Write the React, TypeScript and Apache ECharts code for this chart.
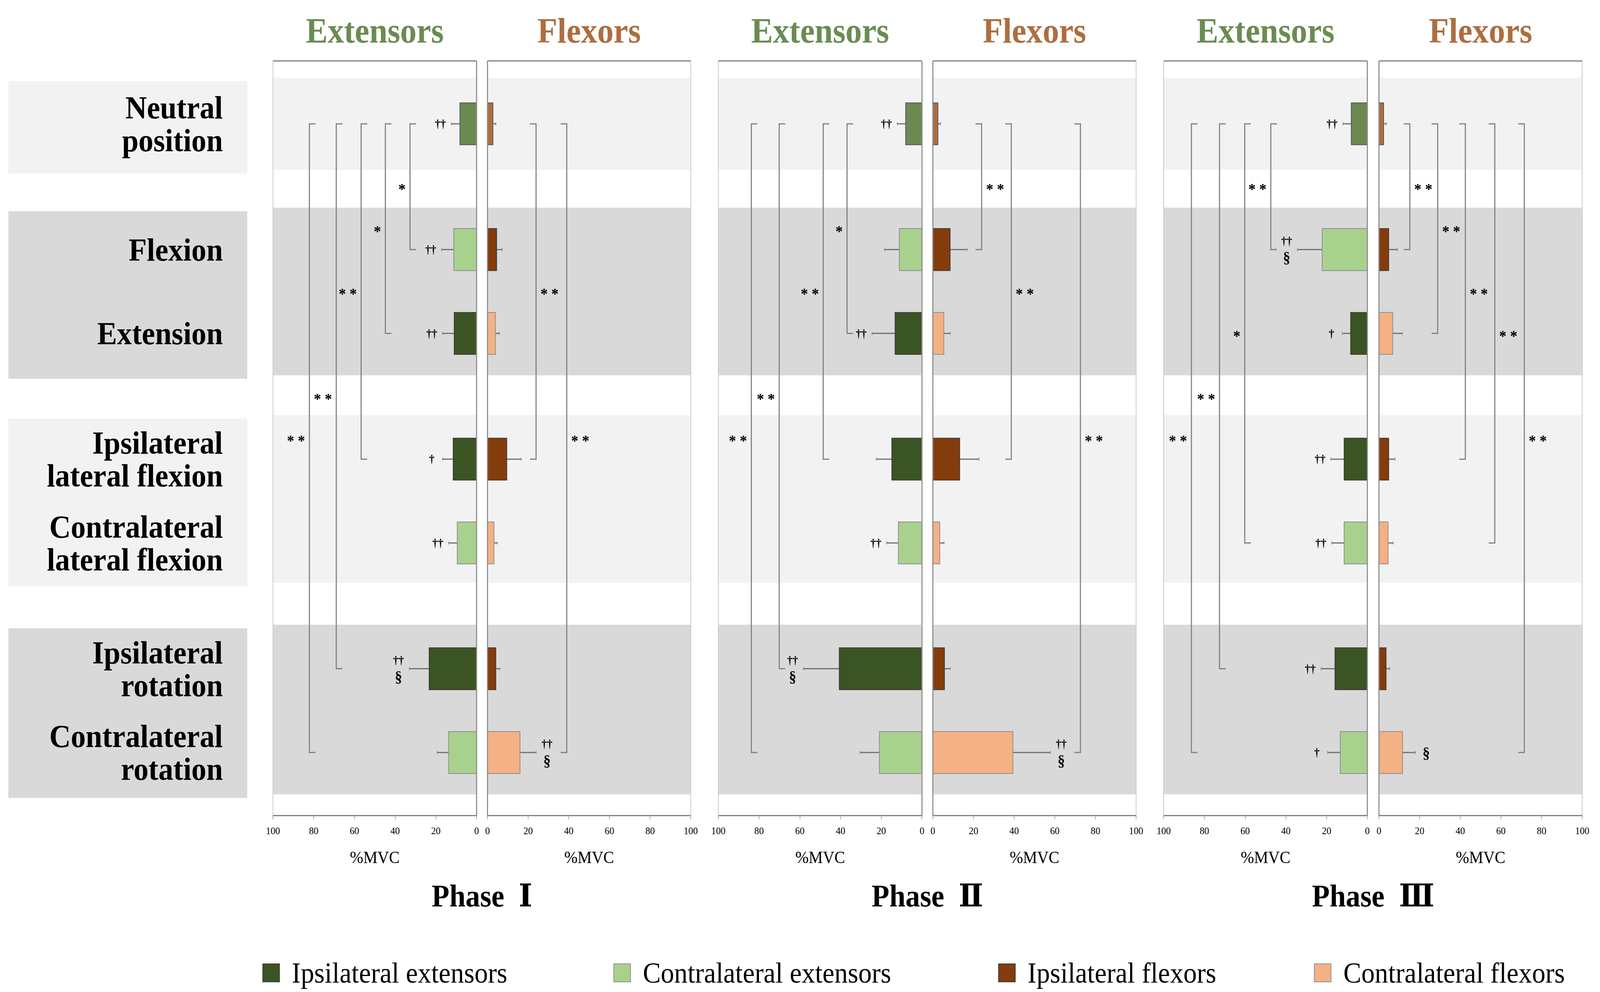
import React, { useEffect, useRef, useState } from "react";
import * as echarts from "echarts";

// ---------- data ----------
const rowLabels = [
  "Neutral\nposition",
  "Flexion",
  "Extension",
  "Ipsilateral\nlateral flexion",
  "Contralateral\nlateral flexion",
  "Ipsilateral\nrotation",
  "Contralateral\nrotation",
];
const rowSlots = [0, 3, 5, 8, 10, 13, 15];
const phaseNames = ["Phase  Ⅰ", "Phase  Ⅱ", "Phase  Ⅲ"];
const legendNames = ["Ipsilateral extensors", "Contralateral extensors", "Ipsilateral flexors", "Contralateral flexors"];

// colour group of each row: 0 neutral, 1 ipsilateral, 2 contralateral
const extGroup = [0, 2, 1, 1, 2, 1, 2];
const flexGroup = [0, 1, 2, 1, 2, 1, 2];

// mean %MVC and SD
const p1ExtMean = [8.2, 11.2, 11.0, 11.5, 9.5, 23.3, 13.7];
const p1ExtSd = [4.2, 6.0, 5.7, 5.2, 4.2, 9.7, 5.7];
const p1FlexMean = [2.7, 4.5, 3.9, 9.5, 3.2, 4.1, 16.0];
const p1FlexSd = [1.4, 2.8, 2.0, 7.1, 1.6, 2.0, 7.9];
const p2ExtMean = [8.0, 11.1, 13.2, 14.8, 11.6, 40.6, 20.9];
const p2ExtSd = [4.1, 7.3, 11.3, 7.6, 5.7, 17.6, 9.4];
const p2FlexMean = [2.5, 8.5, 5.4, 13.2, 3.4, 5.7, 39.4];
const p2FlexSd = [1.3, 8.3, 3.2, 9.5, 2.1, 2.9, 18.4];
const p3ExtMean = [7.9, 22.2, 8.2, 11.4, 11.4, 15.9, 13.3];
const p3ExtSd = [4.1, 12.1, 4.1, 6.5, 6.1, 6.8, 6.2];
const p3FlexMean = [2.3, 4.8, 6.8, 4.8, 4.5, 3.5, 11.6];
const p3FlexSd = [1.3, 4.3, 4.7, 3.1, 2.5, 1.8, 6.3];

// marks next to the SD whiskers
const p1ExtMarks = ["††", "††", "††", "†", "††", "††\n§", ""];
const p1FlexMarks = ["", "", "", "", "", "", "††\n§"];
const p2ExtMarks = ["††", "", "††", "", "††", "††\n§", ""];
const p2FlexMarks = ["", "", "", "", "", "", "††\n§"];
const p3ExtMarks = ["††", "††\n§", "†", "††", "††", "††", "†"];
const p3FlexMarks = ["", "", "", "", "", "", "§"];

// significance brackets: [%MVC position, from row, to row, label]
const p1ExtBrackets: [number, number, number, string][] = [
  [32.7, 0, 1, "*"], [44.8, 0, 2, "*"], [56.7, 0, 3, "* *"], [68.9, 0, 5, "* *"], [82.1, 0, 6, "* *"],
];
const p1FlexBrackets: [number, number, number, string][] = [[23.9, 0, 3, "* *"], [39.0, 0, 6, "* *"]];
const p2ExtBrackets: [number, number, number, string][] = [
  [36.8, 0, 2, "*"], [48.5, 0, 3, "* *"], [70.1, 0, 5, "* *"], [83.8, 0, 6, "* *"],
];
const p2FlexBrackets: [number, number, number, string][] = [[24.0, 0, 1, "* *"], [38.6, 0, 3, "* *"], [72.6, 0, 6, "* *"]];
const p3ExtBrackets: [number, number, number, string][] = [
  [47.4, 0, 1, "* *"], [60.2, 0, 4, "*"], [72.6, 0, 5, "* *"], [86.4, 0, 6, "* *"],
];
const p3FlexBrackets: [number, number, number, string][] = [
  [15.2, 0, 1, "* *"], [28.9, 0, 2, "* *"], [42.5, 0, 3, "* *"], [57.0, 0, 4, "* *"], [71.5, 0, 6, "* *"],
];

// background bands (row units)
const bandStart = [-1.1, 2, 6.95, 11.95];
const bandEnd = [1.1, 6, 10.95, 16];

// ---------- layout / style ----------
const W = 4408;
const H = 2539;
const FONT = '"Liberation Serif", "DejaVu Serif", serif';
const GRID_TOP = 156;
const GRID_H = 1931;
const Y_MIN = -1.5;
const Y_MAX = 16.5;
const EXT_LEFT = [752, 1979, 3206];
const FLEX_LEFT = [1343, 2570, 3799];
const EXT_W = 561;
const FLEX_W = 560;
const LABEL_SHIFT = 9;
const BAND_COLORS = ["#f2f2f2", "#d9d9d9", "#f2f2f2", "#d9d9d9"];
const EXT_COLORS = ["#6a8a52", "#3b5423", "#a9d18e"];
const FLEX_COLORS = ["#ad6e40", "#843c0c", "#f4b183"];
const BORDERS = ["#555555", "#3a3a3a", "#8c8c8c"];
const LEGEND_LEFT = [723, 1690, 2750, 3620];

const MARK_RICH = {
  d: { fontSize: 30, fontWeight: "bold", fontFamily: FONT, lineHeight: 40, fill: "#000", align: "center" },
  s: { fontSize: 40, fontWeight: "bold", fontFamily: FONT, lineHeight: 44, fill: "#000", align: "center" },
};

const phases = [
  { extMean: p1ExtMean, extSd: p1ExtSd, flexMean: p1FlexMean, flexSd: p1FlexSd, extMarks: p1ExtMarks, flexMarks: p1FlexMarks, extBr: p1ExtBrackets, flexBr: p1FlexBrackets },
  { extMean: p2ExtMean, extSd: p2ExtSd, flexMean: p2FlexMean, flexSd: p2FlexSd, extMarks: p2ExtMarks, flexMarks: p2FlexMarks, extBr: p2ExtBrackets, flexBr: p2FlexBrackets },
  { extMean: p3ExtMean, extSd: p3ExtSd, flexMean: p3FlexMean, flexSd: p3FlexSd, extMarks: p3ExtMarks, flexMarks: p3FlexMarks, extBr: p3ExtBrackets, flexBr: p3FlexBrackets },
];

function yAxisFor(i: number) {
  return { type: "value", gridIndex: i, min: Y_MIN, max: Y_MAX, inverse: true, show: false };
}

function panelXAxis(gi: number, ext: boolean) {
  return {
    type: "value",
    gridIndex: gi,
    position: "bottom",
    min: 0,
    max: 100,
    interval: 20,
    inverse: ext,
    axisLine: { show: true, onZero: false, lineStyle: { color: "#7f7f7f", width: 3 } },
    axisTick: { show: true, length: 10, lineStyle: { color: "#a6a6a6", width: 2 } },
    axisLabel: { fontSize: 26, fontFamily: FONT, color: "#000", margin: 26 },
    splitLine: { show: false },
    name: "%MVC",
    nameLocation: "middle",
    nameGap: 85,
    nameTextStyle: { fontSize: 44, fontFamily: FONT, color: "#000" },
  };
}

function bandSeries(gi: number, shift: number) {
  return {
    type: "custom",
    xAxisIndex: gi,
    yAxisIndex: gi,
    z: 1,
    silent: true,
    data: bandStart.map((s, i) => [s, bandEnd[i]]),
    renderItem: (params: any, api: any) => {
      const cs = params.coordSys;
      const y0 = api.coord([0, api.value(0)])[1] + shift;
      const y1 = api.coord([0, api.value(1)])[1] + shift;
      return {
        type: "rect",
        shape: { x: cs.x, y: y0, width: cs.width, height: y1 - y0 },
        style: { fill: BAND_COLORS[params.dataIndex] },
      };
    },
  };
}

function frameSeries(gi: number) {
  return {
    type: "custom",
    xAxisIndex: gi,
    yAxisIndex: gi,
    z: 6,
    silent: true,
    data: [[0]],
    renderItem: (params: any, api: any) => {
      const cs = params.coordSys;
      const zeroX = api.coord([0, Y_MIN])[0];
      const outerX = api.coord([100, Y_MIN])[0];
      const top = cs.y;
      const bottom = cs.y + cs.height;
      return {
        type: "group",
        children: [
          { type: "line", shape: { x1: outerX, y1: top, x2: outerX, y2: bottom }, style: { stroke: "#c8c8c8", lineWidth: 2 } },
          { type: "line", shape: { x1: zeroX, y1: top, x2: zeroX, y2: bottom }, style: { stroke: "#8c8c8c", lineWidth: 3 } },
          { type: "line", shape: { x1: cs.x, y1: top, x2: cs.x + cs.width, y2: top }, style: { stroke: "#7f7f7f", lineWidth: 3 } },
        ],
      };
    },
  };
}

function richMark(mark: string) {
  return mark
    .split("\n")
    .map((line) => (line.indexOf("§") >= 0 ? "{s|" + line + "}" : "{d|" + line + "}"))
    .join("\n");
}

function barSeries(gi: number, ext: boolean, group: number, means: number[], sds: number[], marks: string[]) {
  const groups = ext ? extGroup : flexGroup;
  const idx = means.map((_, i) => i).filter((i) => groups[i] === group);
  const color = (ext ? EXT_COLORS : FLEX_COLORS)[group];
  const border = BORDERS[group];
  const side = ext ? "extensors" : "flexors";
  const name = group === 0 ? "Neutral " + side : (group === 1 ? "Ipsilateral " : "Contralateral ") + side;
  const sign = ext ? -1 : 1;
  return {
    type: "custom",
    name,
    xAxisIndex: gi,
    yAxisIndex: gi,
    z: 5,
    silent: true,
    itemStyle: { color, borderColor: border, borderWidth: 1 },
    data: idx.map((i) => [means[i], sds[i], rowSlots[i]]),
    renderItem: (params: any, api: any) => {
      const mean = api.value(0);
      const sd = api.value(1);
      const slot = api.value(2);
      const mark = marks[idx[params.dataIndex]];
      const base = api.coord([0, slot]);
      const end = api.coord([mean, slot]);
      const tip = api.coord([mean + sd, slot]);
      const h = api.size([0, 1])[1];
      const children: any[] = [
        { type: "line", shape: { x1: end[0], y1: end[1], x2: tip[0], y2: tip[1] }, style: { stroke: "#6f6f6f", lineWidth: 3 } },
        { type: "line", shape: { x1: tip[0], y1: tip[1] - 4, x2: tip[0], y2: tip[1] + 4 }, style: { stroke: "#8a8a8a", lineWidth: 2 } },
        {
          type: "rect",
          shape: { x: Math.min(base[0], end[0]), y: base[1] - h / 2, width: Math.abs(end[0] - base[0]), height: h },
          style: { fill: color, stroke: border, lineWidth: 2 },
        },
      ];
      if (mark) {
        children.push({
          type: "text",
          x: tip[0] + sign * 30,
          y: tip[1],
          style: { text: richMark(mark), rich: MARK_RICH, align: "center", verticalAlign: "middle", fill: "#000" },
        });
      }
      return { type: "group", children };
    },
  };
}

function bracketSeries(gi: number, ext: boolean, brackets: [number, number, number, string][]) {
  const sign = ext ? -1 : 1;
  return {
    type: "custom",
    xAxisIndex: gi,
    yAxisIndex: gi,
    z: 3,
    silent: true,
    data: brackets.map((b) => [b[0], rowSlots[b[1]], rowSlots[b[2]]]),
    renderItem: (params: any, api: any) => {
      const x = api.value(0);
      const y0 = api.value(1);
      const y1 = api.value(2);
      const a = api.coord([x, y0]);
      const b = api.coord([x, y1]);
      const ca = api.coord([x - 3, y0]);
      const cb = api.coord([x - 3, y1]);
      return {
        type: "group",
        children: [
          { type: "polyline", shape: { points: [ca, a, b, cb] }, style: { stroke: "#808080", lineWidth: 3, fill: "none" } },
          {
            type: "text",
            x: a[0] + sign * 12,
            y: (a[1] + b[1]) / 2 + 6,
            style: {
              text: brackets[params.dataIndex][3],
              align: ext ? "right" : "left",
              verticalAlign: "middle",
              fontSize: 40,
              fontWeight: "bold",
              fontFamily: FONT,
              fill: "#000",
            },
          },
        ],
      };
    },
  };
}

function buildOption() {
  const grids: any[] = [{ left: 23, top: GRID_TOP, width: 658, height: GRID_H }];
  const xAxes: any[] = [{ type: "value", gridIndex: 0, min: 0, max: 1, show: false }];
  const yAxes: any[] = [yAxisFor(0)];
  const series: any[] = [
    bandSeries(0, LABEL_SHIFT),
    {
      type: "custom",
      xAxisIndex: 0,
      yAxisIndex: 0,
      z: 2,
      silent: true,
      data: rowSlots.map((s) => [0, s]),
      renderItem: (params: any, api: any) => {
        const p = api.coord([1, api.value(1)]);
        return {
          type: "text",
          x: p[0] - 67,
          y: p[1],
          style: {
            text: rowLabels[params.dataIndex],
            align: "right",
            verticalAlign: "middle",
            fontSize: 82,
            fontWeight: "bold",
            fontFamily: FONT,
            lineHeight: 84,
            fill: "#000",
          },
        };
      },
    },
  ];
  const graphics: any[] = [];

  phases.forEach((ph, p) => {
    const ge = 1 + 2 * p;
    const gf = 2 + 2 * p;
    grids.push({ left: EXT_LEFT[p], top: GRID_TOP, width: EXT_W, height: GRID_H });
    grids.push({ left: FLEX_LEFT[p], top: GRID_TOP, width: FLEX_W, height: GRID_H });
    xAxes.push(panelXAxis(ge, true));
    xAxes.push(panelXAxis(gf, false));
    yAxes.push(yAxisFor(ge));
    yAxes.push(yAxisFor(gf));
    series.push(bandSeries(ge, 0), bandSeries(gf, 0));
    series.push(frameSeries(ge), frameSeries(gf));
    series.push(bracketSeries(ge, true, ph.extBr), bracketSeries(gf, false, ph.flexBr));
    [0, 1, 2].forEach((g) => {
      series.push(barSeries(ge, true, g, ph.extMean, ph.extSd, ph.extMarks));
      series.push(barSeries(gf, false, g, ph.flexMean, ph.flexSd, ph.flexMarks));
    });
    graphics.push({
      type: "text",
      x: EXT_LEFT[p] + EXT_W / 2,
      y: 79,
      style: { text: "Extensors", fill: "#6a8c52", fontSize: 90, fontWeight: "bold", fontFamily: FONT, align: "center", verticalAlign: "middle" },
    });
    graphics.push({
      type: "text",
      x: FLEX_LEFT[p] + FLEX_W / 2,
      y: 79,
      style: { text: "Flexors", fill: "#ad6e40", fontSize: 90, fontWeight: "bold", fontFamily: FONT, align: "center", verticalAlign: "middle" },
    });
    graphics.push({
      type: "text",
      x: (EXT_LEFT[p] + EXT_W + FLEX_LEFT[p]) / 2,
      y: 2293,
      style: { text: phaseNames[p], fill: "#000", fontSize: 80, fontWeight: "bold", fontFamily: FONT, align: "center", verticalAlign: "middle" },
    });
  });

  const legends = legendNames.map((n, i) => ({
    data: [n],
    left: LEGEND_LEFT[i],
    top: 2453,
    padding: 0,
    icon: "rect",
    itemWidth: 46,
    itemHeight: 46,
    selectedMode: false,
    textStyle: { fontSize: 74, fontFamily: FONT, color: "#000", padding: [0, 0, 0, 29] },
  }));

  return {
    animation: false,
    backgroundColor: "#ffffff",
    grid: grids,
    xAxis: xAxes,
    yAxis: yAxes,
    legend: legends,
    graphic: graphics,
    series,
  };
}

function fitScale(): [number, number] {
  if (typeof window === "undefined") return [1, 1];
  const sx = window.innerWidth / W;
  const sy = window.innerHeight / H;
  const ok = (v: number) => (v > 0 && isFinite(v) ? Math.min(v, 1) : 1);
  return [ok(sx), ok(sy)];
}

export default function App() {
  const ref = useRef<HTMLDivElement>(null);
  const [scale, setScale] = useState<[number, number]>(fitScale());
  useEffect(() => {
    const onResize = () => setScale(fitScale());
    window.addEventListener("resize", onResize);
    return () => window.removeEventListener("resize", onResize);
  }, []);
  useEffect(() => {
    if (!ref.current) return;
    const chart = echarts.init(ref.current, null, { renderer: "svg" });
    chart.setOption(buildOption() as any);
    return () => {
      chart.dispose();
    };
  }, []);
  return (
    <div
      ref={ref}
      style={{
        position: "fixed",
        left: 0,
        top: 0,
        width: W,
        height: H,
        background: "#fff",
        transform: `scale(${scale[0]}, ${scale[1]})`,
        transformOrigin: "0 0",
      }}
    />
  );
}
